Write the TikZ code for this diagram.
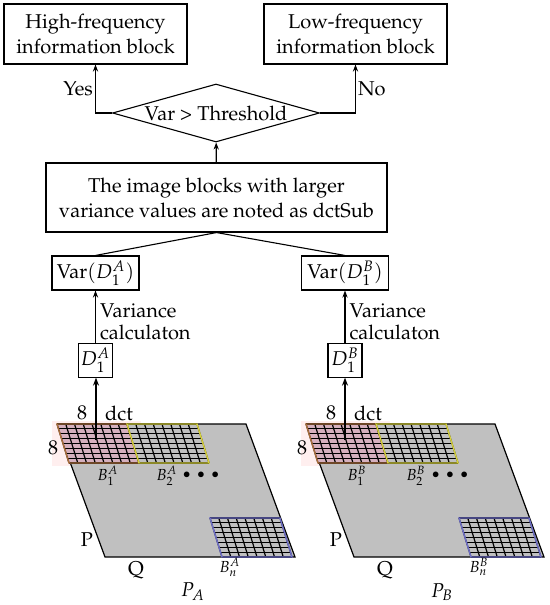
\documentclass[tikz,border=0pt]{standalone}
\usepackage[T1]{fontenc}
\usepackage{mathpazo}
\usepackage{tikz}
\usetikzlibrary{arrows.meta,positioning,shapes.geometric,calc}

\definecolor{imggray}{RGB}{192,192,192}
\definecolor{cellpink}{RGB}{214,176,190}
\definecolor{edgebrown}{RGB}{170,110,60}
\definecolor{edgeyellow}{RGB}{215,210,60}
\definecolor{edgeblue}{RGB}{110,110,200}

% one 8x8 dct block: top-left x, top y, border colour, cell colour
\newcommand{\dctblock}[4]{%
  \fill[#4] (#1,#2) -- ++(70,0) -- ++(12,39) -- ++(-70,0) -- cycle;
  \foreach \k in {0,...,8}{
    \draw[cellline] ({#1+\k*70/8},#2) -- ++(12,39);
    \draw[cellline] ({#1+\k*12/8},{#2+\k*39/8}) -- ++(70,0);
  }
  \draw[#3, line width=0.7pt] (#1,#2) -- ++(70,0) -- ++(12,39) -- ++(-70,0) -- cycle;
}

\begin{document}
\begin{tikzpicture}[
  x=0.5pt, y=-0.5pt,
  every node/.style={font=\fontsize{10}{12.5}\selectfont},
  box/.style={draw, line width=0.55pt, align=center, inner sep=0pt},
  decision/.style={diamond, draw, line width=0.55pt, aspect=3.6, inner sep=0pt,
                   minimum width=103.5pt, minimum height=29pt},
  arrow/.style={-{Stealth[length=3.5pt,width=2.6pt]}, line width=0.55pt},
  dctarrow/.style={-{Stealth[length=4pt,width=3pt]}, line width=1.2pt},
  link/.style={line width=0.55pt},
  cellline/.style={black, line width=0.6pt},
  lbl/.style={inner sep=1pt},
  tag/.style={inner sep=0pt},
  small/.style={inner sep=0pt, font=\footnotesize},
]
  \useasboundingbox (0,0) rectangle (550,605);

  % decision part
  \node[box, minimum width=91.5pt, minimum height=30pt] (high) at (95.5,34)
    {High-frequency\\information block};
  \node[box, minimum width=91.5pt, minimum height=30pt] (low) at (355.5,34)
    {Low-frequency\\information block};
  \node[decision] (thr) at (216,113) {Var > Threshold};
  \node[box, minimum width=170.5pt, minimum height=34.5pt] (sub) at (216.5,197.5)
    {The image blocks with larger\\variance values are noted as dctSub};

  \draw[arrow] (thr.west) -| node[lbl, left, pos=0.75] {Yes} (high.south);
  \draw[arrow] (thr.east) -| node[lbl, right, pos=0.75] {No} (low.south);
  \draw[arrow] (sub) -- (thr);

  % variance boxes
  \node[box, minimum width=43.5pt, minimum height=17pt] (varA) at (95.5,273) {$\mathrm{Var}(D_1^A)$};
  \node[box, minimum width=43.5pt, minimum height=17pt] (varB) at (345,273) {$\mathrm{Var}(D_1^B)$};
  \node[box, minimum width=17pt, minimum height=17pt, below=26pt of varA] (dA) {$D_1^A$};
  \node[box, minimum width=17pt, minimum height=17pt, below=26pt of varB] (dB) {$D_1^B$};

  \draw[link] (sub.south) -- (varA.north);
  \draw[link] (sub.south) -- (varB.north);
  \draw[arrow] (dA) -- node[right, pos=0.4, align=left, inner sep=2pt, font=\fontsize{10}{11}\selectfont]
    {Variance\\calculaton} (varA);
  \draw[arrow] (dB) -- node[right, pos=0.4, align=left, inner sep=2pt, font=\fontsize{10}{11}\selectfont]
    {Variance\\calculaton} (varB);

  % the two images
  \foreach \s/\im in {0/A, 249/B}{
    \begin{scope}[xshift=\s*0.5pt]
      \fill[pink!25] (52,421) rectangle (141,466);
      \filldraw[fill=imggray, line width=0.6pt] (56,424) -- (246,424) -- (295,557) -- (105,557) -- cycle;
      \fill[pink!25] (52,421) rectangle (70,466);
      \dctblock{57}{424}{edgebrown}{cellpink}
      \dctblock{127}{424}{edgeyellow}{imggray}
      \dctblock{210}{518}{edgeblue}{imggray}
      \node[small] (b1\im) at (108,476) {$B_1^{\im}$};
      \node[small] (b2\im) at (167,476) {$B_2^{\im}$};
      \node[tag] (dots\im) at (201,475) {\scriptsize$\bullet\;\bullet\;\bullet$};
      \node[small] (bn\im) at (230,567) {$B_n^{\im}$};
      \node[tag] (p\im) at (87,540) {P};
      \node[tag] (q\im) at (136,570) {Q};
      \node[tag] (pic\im) at (193,592) {$P_{\im}$};
      \node[tag] (eighttop\im) at (82,413) {8};
      \node[tag] (dct\im) at (119,413) {dct};
      \node[tag] (eightleft\im) at (53,448) {8};
      \coordinate (src\im) at (96,440);
    \end{scope}
  }
  \draw[dctarrow] (srcA) -- (srcA |- dA.south);
  \draw[dctarrow] (srcB) -- (srcB |- dB.south);
\end{tikzpicture}
\end{document}
